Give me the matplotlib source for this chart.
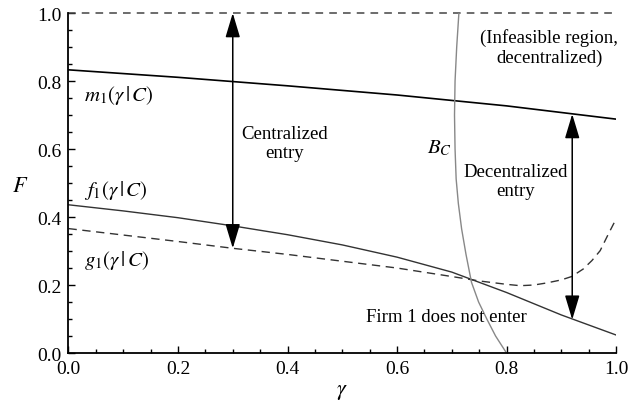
import matplotlib
matplotlib.use("Agg")
import matplotlib.pyplot as plt
from matplotlib.ticker import MultipleLocator, FormatStrFormatter

plt.rcParams['font.family'] = ['Liberation Serif', 'DejaVu Serif']
plt.rcParams['mathtext.fontset'] = 'stix'

# Data
m1_x = [0.0, 0.2, 0.4, 0.6, 0.8, 1.0]
m1_y = [0.833, 0.811, 0.786, 0.759, 0.727, 0.688]

f1_x = [0.0, 0.1, 0.2, 0.3, 0.4, 0.5, 0.6, 0.7, 0.8, 0.9, 1.0]
f1_y = [0.436, 0.418, 0.398, 0.374, 0.348, 0.318, 0.282, 0.238, 0.178, 0.112, 0.053]

g1_x = [0.0, 0.1, 0.2, 0.3, 0.4, 0.5, 0.6, 0.7, 0.75, 0.8, 0.825, 0.85, 0.873, 0.9,
        0.919, 0.94, 0.956, 0.971, 0.986, 1.0]
g1_y = [0.366, 0.347, 0.328, 0.308, 0.290, 0.270, 0.250, 0.225, 0.212, 0.202, 0.198, 0.200,
        0.206, 0.215, 0.225, 0.247, 0.272, 0.301, 0.350, 0.394]

bc_x = [0.800, 0.780, 0.764, 0.749, 0.736, 0.726, 0.718, 0.712, 0.708, 0.706, 0.705, 0.706, 0.709, 0.713]
bc_y = [0.000, 0.050, 0.100, 0.150, 0.208, 0.290, 0.365, 0.440, 0.512, 0.600, 0.700, 0.800, 0.900, 1.000]

upper_x = [0.0, 1.0]
upper_y = [1.0, 1.0]

central_arrow = (0.3, 1.0, 0.308)     # x, top, bottom
decentral_arrow = (0.92, 0.703, 0.098)

fig = plt.figure(figsize=(6.36, 4.02), dpi=100)
ax = fig.add_axes([0.1077, 0.1194, 0.8609, 0.8456])

ax.plot(upper_x, upper_y, color='#444444', lw=1.1, ls=(0, (5, 4)), clip_on=False)
ax.plot(m1_x, m1_y, color='black', lw=1.2)
ax.plot(f1_x, f1_y, color='#333333', lw=1.0)
ax.plot(g1_x, g1_y, color='#333333', lw=1.0, ls=(0, (6, 4)))
ax.plot(bc_x, bc_y, color='#888888', lw=1.0)

for (xa, ytop, ybot) in [central_arrow, decentral_arrow]:
    ax.annotate('', xy=(xa, ytop), xytext=(xa, ybot),
                arrowprops=dict(arrowstyle='<|-|>,head_length=15,head_width=4.5',
                                mutation_scale=1, color='black', lw=1.1,
                                shrinkA=0, shrinkB=0))

fs = 13.5
mfs = 15
ax.text(0.028, 0.76, r'$m_1(\gamma\,|\,C)$', fontsize=mfs, ha='left', va='center')
ax.text(0.028, 0.48, r'$f_1(\gamma\,|\,C)$', fontsize=mfs, ha='left', va='center')
ax.text(0.028, 0.276, r'$g_1(\gamma\,|\,C)$', fontsize=mfs, ha='left', va='center')
ax.text(0.70, 0.606, r'$B_C$', fontsize=mfs, ha='right', va='center')
ax.text(0.394, 0.617, 'Centralized\nentry', fontsize=fs, ha='center', va='center', linespacing=1.15)
ax.text(0.817, 0.505, 'Decentralized\nentry', fontsize=fs, ha='center', va='center', linespacing=1.15)
ax.text(0.878, 0.90, '(Infeasible region,\ndecentralized)', fontsize=fs, ha='center', va='center', linespacing=1.15)
ax.text(0.691, 0.106, 'Firm 1 does not enter', fontsize=fs, ha='center', va='center')

ax.set_xlim(0, 1)
ax.set_ylim(0, 1)
ax.spines['top'].set_visible(False)
ax.spines['right'].set_visible(False)
ax.spines['left'].set_linewidth(1.3)
ax.spines['bottom'].set_linewidth(1.3)
ax.xaxis.set_major_locator(MultipleLocator(0.2))
ax.xaxis.set_minor_locator(MultipleLocator(0.05))
ax.yaxis.set_major_locator(MultipleLocator(0.2))
ax.yaxis.set_minor_locator(MultipleLocator(0.05))
ax.xaxis.set_major_formatter(FormatStrFormatter('%.1f'))
ax.yaxis.set_major_formatter(FormatStrFormatter('%.1f'))
ax.tick_params(which='both', direction='in', top=False, right=False, labelsize=14, width=1.0)
ax.tick_params(which='major', length=5)
ax.tick_params(which='minor', length=3)
ax.tick_params(axis='x', which='major', pad=5)
ax.tick_params(axis='y', which='major', pad=5)

ax.set_xlabel(r'$\gamma$', fontsize=16)
ax.set_ylabel(r'$F$', fontsize=16, rotation=0, va='center', ha='center')
ax.yaxis.set_label_coords(-0.088, 0.49)
ax.xaxis.set_label_coords(0.5, -0.085)

fig.savefig('out.png', dpi=100)
